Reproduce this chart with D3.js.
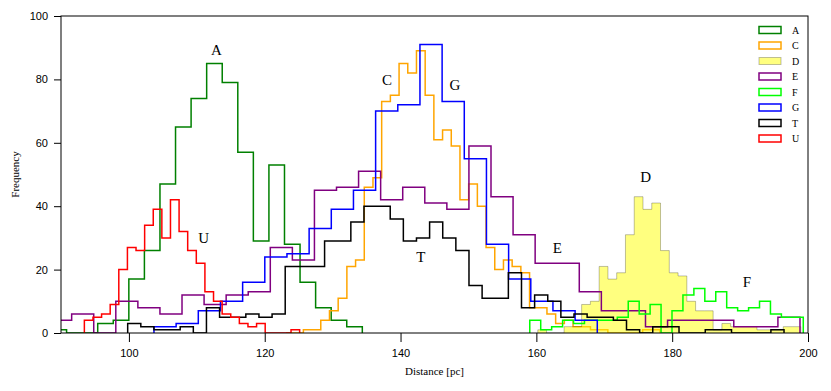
<!DOCTYPE html>
<html>
<head>
<meta charset="utf-8">
<script src="https://cdn.jsdelivr.net/npm/d3@7"></script>
<style>
  body { margin: 0; background: #fff; }
  svg { font-family: "Liberation Serif", "DejaVu Serif", serif; }
</style>
</head>
<body>
<svg class="hist" width="831" height="391"></svg>
<script>
// histogram bins: first edge, bin width (pc), counts per bin
var startA = 88.53, widthA = 2.292,
    countsA = [1, 0, 0, 3, 4, 17, 26, 47, 65, 74, 85, 79, 57, 29, 53, 28, 16, 8, 4, 2];
var startC = 123.13, widthC = 1.281,
    countsC = [0, 0, 1, 1, 4, 7, 11, 21, 23, 46, 49, 73, 75, 85, 82, 89, 75, 61, 64, 59, 42, 47, 40, 27,
               20, 23, 21, 19, 8, 8, 6, 3, 4, 2, 2, 1, 1, 0, 0, 0, 0, 1, 1];
var startD = 160.21, widthD = 1.291,
    countsD = [1, 0, 0, 2, 2, 9, 10, 21, 17, 19, 31, 43, 39, 41, 26, 19, 18, 10, 7, 7, 1, 3, 2, 2, 2, 1, 1, 1, 2, 2];
var startE = 88.32, widthE = 3.25,
    countsE = [4, 6, 0, 10, 8, 6, 12, 9, 12, 13, 27, 23, 45, 46, 51, 42, 46, 41, 39, 59, 43, 31, 22, 22,
               13, 7, 7, 2, 4, 4, 4, 2, 2, 5];
var startF = 159.03, widthF = 1.611,
    countsF = [4, 1, 2, 4, 3, 4, 4, 4, 5, 10, 6, 9, 0, 7, 12, 14, 10, 13, 8, 7, 8, 10, 6, 5, 5];
var startG = 103.69, widthG = 3.264,
    countsG = [2, 3, 7, 10, 16, 24, 25, 33, 39, 45, 70, 72, 91, 73, 55, 28, 17, 10, 7, 4];
var startT = 99.82, widthT = 1.933,
    countsT = [3, 2, 1, 1, 2, 0, 8, 5, 5, 6, 5, 6, 21, 21, 21, 29, 29, 35, 40, 40, 36, 29, 30, 35, 30, 26,
               15, 11, 11, 19, 8, 12, 10, 5, 6, 5, 5, 4, 1, 0, 2, 2, 0, 0, 1, 1, 0, 0, 0, 1];
var startU = 93.44, widthU = 1.268,
    countsU = [4, 5, 6, 9, 20, 27, 26, 34, 39, 30, 42, 32, 26, 22, 13, 10, 6, 5, 3, 2, 3, 0, 0, 0, 1];

var names = ["A", "C", "D", "E", "F", "G", "T", "U"];
var xTicks = [100, 120, 140, 160, 180, 200];
var yTicks = [0, 20, 40, 60, 80, 100];
// text labels next to the peaks (distance, frequency)
var peakNames = ["A", "U", "C", "G", "T", "E", "D", "F"];
var peakX = [112.9, 111.0, 138.0, 148.0, 143.0, 163.1, 176.1, 191.0];
var peakY = [89.3, 29.9, 80.0, 78.2, 23.9, 27.0, 49.3, 16.2];

var hists = {
  A: {start: startA, width: widthA, counts: countsA, color: "green"},
  C: {start: startC, width: widthC, counts: countsC, color: "orange"},
  D: {start: startD, width: widthD, counts: countsD, color: "yellow", filled: true},
  E: {start: startE, width: widthE, counts: countsE, color: "purple"},
  F: {start: startF, width: widthF, counts: countsF, color: "lime"},
  G: {start: startG, width: widthG, counts: countsG, color: "blue"},
  T: {start: startT, width: widthT, counts: countsT, color: "black"},
  U: {start: startU, width: widthU, counts: countsU, color: "red"}
};

var svg = d3.select(".hist"),
    margin = {top: 16, right: 23, bottom: 58, left: 61},
    width = +svg.attr("width") - margin.left - margin.right,
    height = +svg.attr("height") - margin.top - margin.bottom,
    g = svg.append("g").attr("transform", "translate(" + margin.left + "," + margin.top + ")");

var x = d3.scaleLinear().domain([90, 200]).range([0, width]);
var y = d3.scaleLinear().domain([0, 100]).range([height, 0]);

g.append("clipPath").attr("id", "plotclip")
  .append("rect").attr("width", width).attr("height", height);

// outline of a step histogram, from the baseline up and back down
function stepPoints(h) {
  var pts = [[h.start, 0]];
  h.counts.forEach(function(c, i) {
    pts.push([h.start + i * h.width, c]);
    pts.push([h.start + (i + 1) * h.width, c]);
  });
  pts.push([h.start + h.counts.length * h.width, 0]);
  return pts;
}

var line = d3.line()
    .x(function(d) { return x(d[0]); })
    .y(function(d) { return y(d[1]); });

var plot = g.append("g").attr("clip-path", "url(#plotclip)");

names.forEach(function(n) {
  var h = hists[n];
  if (h.filled) {
    plot.append("path")
        .datum(stepPoints(h))
        .attr("fill", h.color)
        .attr("fill-opacity", 0.5)
        .attr("stroke", "#000")
        .attr("stroke-opacity", 0.25)
        .attr("stroke-width", 1)
        .attr("d", line);
  } else {
    plot.append("path")
        .datum(stepPoints(h))
        .attr("fill", "none")
        .attr("stroke", h.color)
        .attr("stroke-linejoin", "miter")
        .attr("stroke-width", 1.5)
        .attr("d", line);
  }
});

// axes
g.append("g")
    .attr("transform", "translate(0," + height + ")")
    .call(d3.axisBottom(x).tickValues(xTicks).tickSize(9).tickPadding(7))
    .call(function(a) { a.select(".domain").remove(); });
g.append("g")
    .call(d3.axisLeft(y).tickValues(yTicks).tickSize(7).tickPadding(6))
    .call(function(a) { a.select(".domain").remove(); });
g.selectAll(".tick text").attr("font-size", 11).attr("font-family", null).attr("fill", "#000");
g.selectAll(".tick line").attr("stroke", "#000").attr("stroke-width", 1);

g.append("rect")
    .attr("width", width).attr("height", height)
    .attr("fill", "none").attr("stroke", "#000").attr("stroke-width", 1);

svg.append("text")
    .attr("x", margin.left + width / 2).attr("y", 375)
    .attr("text-anchor", "middle").attr("font-size", 11)
    .text("Distance [pc]");
svg.append("text")
    .attr("transform", "translate(19," + (margin.top + height / 2) + ") rotate(-90)")
    .attr("text-anchor", "middle").attr("font-size", 11)
    .text("Frequency");

// peak labels
g.selectAll(".peak")
  .data(peakNames)
  .enter().append("text")
    .attr("class", "peak")
    .attr("x", function(d, i) { return x(peakX[i]); })
    .attr("y", function(d, i) { return y(peakY[i]); })
    .attr("dy", "0.35em")
    .attr("text-anchor", "middle")
    .attr("font-size", 15)
    .text(function(d) { return d; });

// legend
var legend = svg.append("g").attr("transform", "translate(759,30)");
names.forEach(function(n, i) {
  var h = hists[n];
  var row = legend.append("g").attr("transform", "translate(0," + (i * 15.5) + ")");
  row.append("rect")
      .attr("x", 0).attr("y", -3.5)
      .attr("width", 22).attr("height", 7)
      .attr("fill", h.filled ? h.color : "none")
      .attr("fill-opacity", h.filled ? 0.5 : 1)
      .attr("stroke", h.filled ? "#000" : h.color)
      .attr("stroke-opacity", h.filled ? 0.25 : 1)
      .attr("stroke-width", h.filled ? 1 : 1.5);
  row.append("text")
      .attr("x", 33).attr("y", 0).attr("dy", "0.35em")
      .attr("font-size", 10)
      .text(n);
});
</script>
</body>
</html>
